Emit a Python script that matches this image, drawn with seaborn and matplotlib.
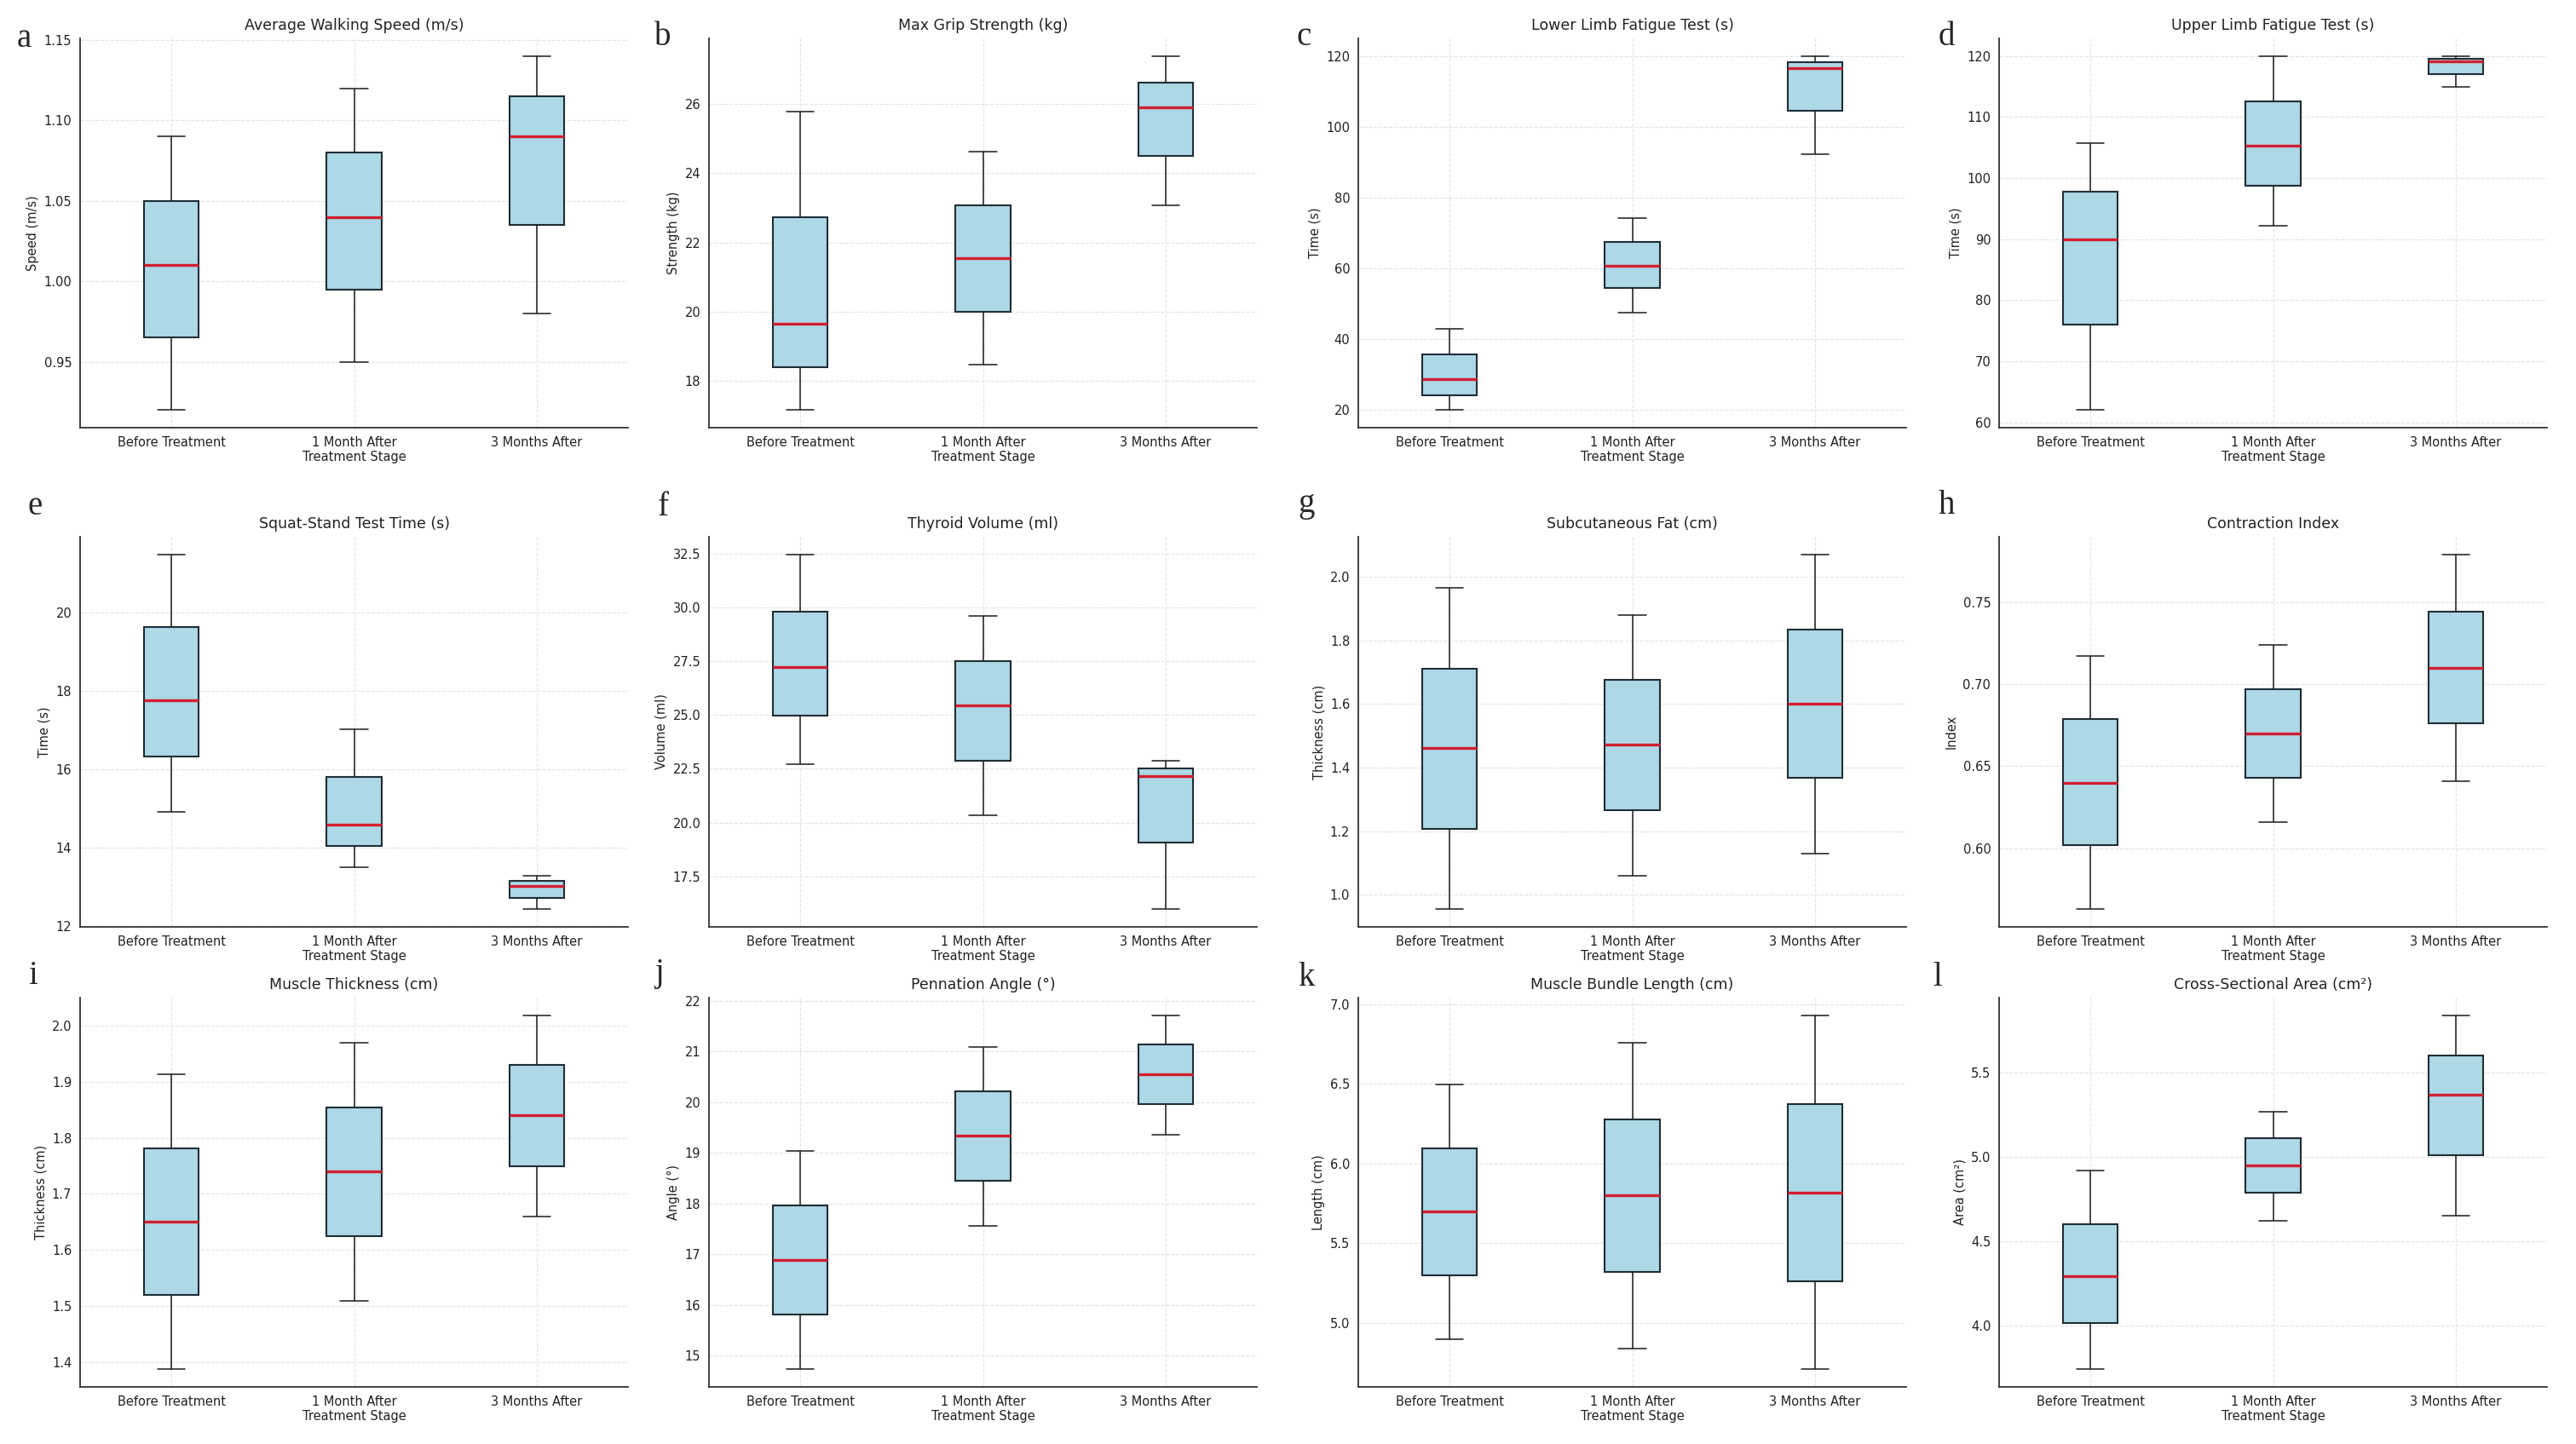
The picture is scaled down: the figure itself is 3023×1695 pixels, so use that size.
import numpy as np
import pandas as pd
import matplotlib
matplotlib.use("Agg")
import matplotlib.pyplot as plt
from matplotlib.ticker import MultipleLocator
import seaborn as sns

stages = ["Before Treatment", "1 Month After", "3 Months After"]

# per stage: [min, q1, median, q3, max]
walking_speed = [[0.920, 0.965, 1.010, 1.050, 1.090],
                 [0.950, 0.995, 1.040, 1.080, 1.120],
                 [0.980, 1.035, 1.090, 1.115, 1.140]]
grip_strength = [[17.16, 18.40, 19.66, 22.72, 25.79],
                 [18.48, 20.00, 21.54, 23.08, 24.62],
                 [23.08, 24.50, 25.90, 26.63, 27.39]]
lower_limb = [[20.0, 24.2, 28.6, 35.7, 43.0],
              [47.6, 54.4, 60.8, 67.5, 74.2],
              [92.3, 104.5, 116.6, 118.3, 120.0]]
upper_limb = [[62.0, 76.0, 90.0, 97.8, 105.7],
              [92.2, 98.8, 105.3, 112.6, 120.0],
              [115.0, 117.0, 119.1, 119.5, 120.0]]
squat_stand = [[14.91, 16.33, 17.77, 19.62, 21.48],
               [13.50, 14.06, 14.60, 15.81, 17.03],
               [12.44, 12.73, 13.02, 13.16, 13.30]]
thyroid_volume = [[22.73, 24.97, 27.21, 29.82, 32.46],
                  [20.34, 22.88, 25.45, 27.51, 29.62],
                  [15.98, 19.08, 22.16, 22.51, 22.88]]
subcutaneous_fat = [[0.955, 1.208, 1.461, 1.712, 1.964],
                    [1.060, 1.267, 1.471, 1.676, 1.880],
                    [1.130, 1.367, 1.600, 1.834, 2.070]]
contraction_index = [[0.563, 0.602, 0.640, 0.679, 0.717],
                     [0.616, 0.643, 0.670, 0.697, 0.724],
                     [0.641, 0.676, 0.710, 0.744, 0.779]]
muscle_thickness = [[1.387, 1.519, 1.650, 1.781, 1.913],
                    [1.509, 1.624, 1.741, 1.855, 1.970],
                    [1.660, 1.750, 1.840, 1.930, 2.019]]
pennation_angle = [[14.73, 15.81, 16.88, 17.96, 19.04],
                   [17.56, 18.45, 19.33, 20.21, 21.09],
                   [19.36, 19.96, 20.54, 21.13, 21.71]]
bundle_length = [[4.900, 5.300, 5.700, 6.095, 6.494],
                 [4.842, 5.320, 5.800, 6.278, 6.758],
                 [4.710, 5.264, 5.820, 6.374, 6.930]]
cross_area = [[3.740, 4.015, 4.290, 4.600, 4.920],
              [4.620, 4.785, 4.950, 5.110, 5.268],
              [4.650, 5.010, 5.370, 5.600, 5.840]]

panels = [walking_speed, grip_strength, lower_limb, upper_limb,
          squat_stand, thyroid_volume, subcutaneous_fat, contraction_index,
          muscle_thickness, pennation_angle, bundle_length, cross_area]
titles = ["Average Walking Speed (m/s)", "Max Grip Strength (kg)",
          "Lower Limb Fatigue Test (s)", "Upper Limb Fatigue Test (s)",
          "Squat-Stand Test Time (s)", "Thyroid Volume (ml)",
          "Subcutaneous Fat (cm)", "Contraction Index",
          "Muscle Thickness (cm)", "Pennation Angle (°)",
          "Muscle Bundle Length (cm)", "Cross-Sectional Area (cm²)"]
ylabels = ["Speed (m/s)", "Strength (kg)", "Time (s)", "Time (s)",
           "Time (s)", "Volume (ml)", "Thickness (cm)", "Index",
           "Thickness (cm)", "Angle (°)", "Length (cm)", "Area (cm²)"]
letters = list("abcdefghijkl")
tick_steps = [0.05, 2, 20, 10, 2, 2.5, 0.2, 0.05, 0.1, 1, 0.5, 0.5]

sns.set_theme(style="whitegrid")
plt.rcParams.update({
    "font.family": ["DejaVu Sans"],
    "axes.edgecolor": "#333333",
    "axes.linewidth": 1.3,
    "grid.color": "#e3e3e3",
    "grid.linestyle": "--",
    "grid.linewidth": 0.8,
    "xtick.major.size": 4,
    "ytick.major.size": 4,
    "xtick.major.width": 1.0,
    "ytick.major.width": 1.0,
    "xtick.color": "#333333",
    "ytick.color": "#333333",
    "xtick.labelcolor": "#222222",
    "ytick.labelcolor": "#222222",
})

W, H = 3023, 1695
fig = plt.figure(figsize=(W / 100, H / 100), dpi=100)

col_left = [94, 832, 1594, 2346]
row_span = [(45, 502), (630, 1088), (1171, 1628)]
ax_w = 643
letter_pos = [(20, 55), (768, 53), (1522, 53), (2275, 53),
              (33, 604), (772, 605), (1523, 601), (2275, 603),
              (33, 1155), (768, 1152), (1523, 1157), (2268, 1157)]

for i, vals in enumerate(panels):
    r, c = divmod(i, 4)
    top, bottom = row_span[r]
    ax = fig.add_axes([col_left[c] / W, 1 - bottom / H, ax_w / W, (bottom - top) / H])

    df = pd.DataFrame({
        "stage": np.repeat(stages, [len(v) for v in vals]),
        "value": np.concatenate(vals),
    })
    sns.boxplot(data=df, x="stage", y="value", order=stages, ax=ax,
                width=0.3, color="lightblue", saturation=1, whis=(0, 100),
                linecolor="#1a1a1a", linewidth=1.1, capwidths=0.15,
                showfliers=False,
                boxprops=dict(edgecolor="#1f2d35", linewidth=1.5),
                medianprops=dict(color="#d21f2f", linewidth=2.4))

    ax.set_title(titles[i], fontsize=12.5, color="#222222", pad=7)
    ax.set_ylabel(ylabels[i], fontsize=10.5, color="#222222")
    ax.set_xlabel("Treatment Stage", fontsize=10.5, color="#222222", labelpad=2)
    ax.tick_params(axis="both", labelsize=10.5, pad=3)
    ax.yaxis.set_major_locator(MultipleLocator(tick_steps[i]))
    ax.set_xlim(-0.5, 2.5)
    ax.grid(True, axis="both")
    ax.set_axisbelow(True)
    sns.despine(ax=ax)

    lx, ly = letter_pos[i]
    fig.text(lx / W, 1 - ly / H, letters[i], fontsize=28,
             family=["Liberation Serif", "DejaVu Serif"], va="baseline", ha="left")

fig.savefig("out.png", dpi=100, facecolor="white")
